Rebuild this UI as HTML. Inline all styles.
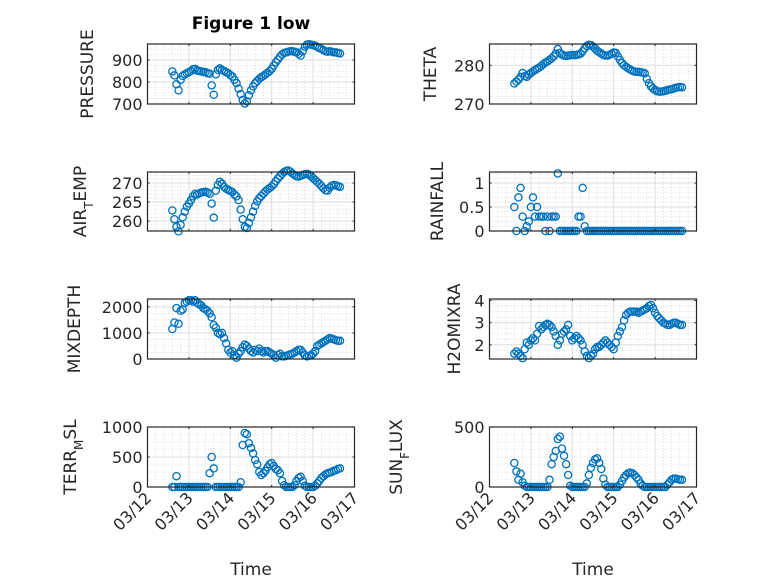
<!DOCTYPE html>
<html><head><meta charset="utf-8"><title>Figure 1 low</title>
<style>
html,body{margin:0;padding:0;background:#fff;}
svg{display:block;font-family:"DejaVu Sans","Liberation Sans",sans-serif;}
</style></head>
<body>
<svg id="fig" width="778" height="583" viewBox="0 0 778 583" xmlns="http://www.w3.org/2000/svg">
<rect x="0" y="0" width="778" height="583" fill="#fff"/>
<text x="251" y="29" text-anchor="middle" font-size="17" font-weight="bold" fill="#000">Figure 1 low</text>
</svg>
<script>
const times = [0.60,0.65,0.70,0.75,0.80,0.85,0.90,0.95,1.00,1.05,1.10,1.15,1.20,1.25,1.30,1.35,1.40,1.45,1.50,1.55,1.60,1.65,1.70,1.75,1.80,1.85,1.90,1.95,2.00,2.05,2.10,2.15,2.20,2.25,2.30,2.35,2.40,2.45,2.50,2.55,2.60,2.65,2.70,2.75,2.80,2.85,2.90,2.95,3.00,3.05,3.10,3.15,3.20,3.25,3.30,3.35,3.40,3.45,3.50,3.55,3.60,3.65,3.70,3.75,3.80,3.85,3.90,3.95,4.00,4.05,4.10,4.15,4.20,4.25,4.30,4.35,4.40,4.45,4.50,4.55,4.60,4.65];
const xTickLabels = ["03/12","03/13","03/14","03/15","03/16","03/17"];
const pressure = [848,830,790,762,810,828,835,840,845,850,858,860,852,850,848,846,845,840,838,785,742,835,855,862,855,850,845,840,832,825,810,795,770,745,718,702,712,740,762,780,795,805,815,822,828,835,842,850,860,875,890,902,915,925,932,935,938,940,940,938,935,928,920,940,960,970,972,970,968,965,960,955,950,945,940,938,940,938,935,935,932,930];
const theta = [275.3,275.8,276.3,277.0,278.0,277.2,277.0,277.6,278.0,278.4,278.8,279.1,279.4,279.8,280.3,280.7,281.0,281.4,281.8,282.3,283.0,284.2,283.2,282.8,282.5,282.4,282.5,282.6,282.7,282.6,282.7,282.8,283.0,283.6,284.4,285.0,285.3,285.2,284.8,284.3,283.8,283.4,283.0,282.7,282.5,282.5,282.7,283.0,283.3,283.2,282.3,281.4,280.6,280.0,279.6,279.2,278.9,278.6,278.4,278.3,278.3,278.2,278.1,277.9,276.5,275.4,274.6,274.0,273.6,273.3,273.2,273.2,273.3,273.4,273.6,273.7,273.8,274.0,274.2,274.3,274.4,274.3];
const airTemp = [262.8,260.5,258.5,257.3,259,261,262.5,263.8,264.6,265.5,266.5,267.2,267.0,267.3,267.5,267.6,267.7,267.5,267.2,264.6,260.9,268,269.5,270.3,269.8,269,268.5,268.2,267.9,267.6,267,266.5,265.5,263,260.5,258.5,258.2,259.5,261,262.5,264,265.2,266,266.6,267.2,267.8,268.3,268.7,269.1,269.7,270.5,271.2,271.8,272.4,272.9,273.2,273.3,273.0,272.5,272.1,271.8,271.7,271.9,272.1,272.3,272.4,272.2,271.8,271.3,270.8,270.3,269.8,269.2,268.6,268.1,268.0,268.8,269.3,269.5,269.4,269.2,269.0];
const rainfall = [0.5,0,0.7,0.9,0.3,0,0.1,0.2,0.5,0.7,0.3,0.5,0.3,0.3,0.3,0,0.3,0,0.3,0.3,0.3,1.2,0,0,0,0,0,0,0,0,0,0.3,0.3,0.9,0.1,0,0,0,0,0,0,0,0,0,0,0,0,0,0,0,0,0,0,0,0,0,0,0,0,0,0,0,0,0,0,0,0,0,0,0,0,0,0,0,0,0,0,0,0,0,0,0];
const mixDepth = [1150,1400,1950,1350,1850,1900,2150,2200,2250,2250,2200,2250,2150,2100,2050,1950,1900,1850,1750,1600,1300,1200,1000,950,1000,800,600,350,250,300,150,50,200,300,450,550,500,400,300,250,350,300,400,300,250,300,300,250,200,150,50,150,200,100,100,120,150,180,200,250,300,350,350,250,150,100,120,150,200,300,500,550,600,650,700,750,800,780,750,720,700,700];
const h2oMix = [1.6,1.7,1.6,1.5,1.4,1.8,2.1,2.0,2.2,2.3,2.2,2.5,2.85,2.7,2.8,2.9,2.95,2.9,2.8,2.6,2.4,2.0,2.2,2.5,2.6,2.7,2.9,2.4,2.2,2.3,2.4,2.3,2.2,2.0,1.7,1.5,1.4,1.5,1.6,1.8,1.9,1.9,2.0,2.1,2.2,2.1,2.0,1.9,1.8,2.1,2.4,2.6,2.8,3.1,3.35,3.45,3.5,3.5,3.5,3.5,3.45,3.5,3.55,3.6,3.65,3.75,3.8,3.65,3.45,3.3,3.2,3.1,3.0,2.95,2.9,2.9,2.95,3.0,3.0,2.95,2.9,2.9];
const terrMsl = [0,0,180,0,0,0,0,0,0,0,0,0,0,0,0,0,0,0,230,500,310,0,0,0,0,0,0,0,0,0,0,0,0,80,700,900,880,730,650,560,450,380,250,200,230,270,330,380,400,350,300,280,230,100,30,0,0,0,0,30,100,150,170,100,20,0,0,0,0,20,60,100,150,180,210,230,240,250,270,280,300,310];
const sunFlux = [200,130,60,110,40,10,0,0,0,0,0,0,0,0,0,0,0,60,190,250,300,400,420,320,260,190,100,10,0,0,0,0,0,0,0,30,100,160,200,230,240,200,150,70,20,0,0,0,0,0,0,20,50,80,100,115,120,115,100,80,60,30,10,0,0,0,0,0,0,0,0,0,0,0,20,40,60,70,70,65,60,60];

const pressureTicks=[700,800,900], thetaTicks=[270,280], airTicks=[260,265,270], rainTicks=[0,0.5,1], rainTickLabels=["0","0.5","1"], mixTicks=[0,1000,2000], h2oTicks=[2,3,4], terrTicks=[0,500,1000], sunTicks=[0,500];

const NS="http://www.w3.org/2000/svg";
const svg=document.getElementById('fig');
function mk(tag,attrs,parent){const e=document.createElementNS(NS,tag);for(const k in attrs)e.setAttribute(k,attrs[k]);(parent||svg).appendChild(e);return e;}

function panel(o){
  const g=mk('g',{});
  
  
  const L=o.x, R=o.x+207, T=o.y, B=o.y+o.h;
  const xs=t=>L+(t/5)*(R-L);
  const ys=v=>B-(v-o.ymin)/(o.ymax-o.ymin)*(B-T);
  for(let d=0;d<5;d++)for(let k=1;k<5;k++){const x=xs(d+k/5);mk('line',{x1:x,x2:x,y1:T,y2:B,stroke:'#c8c8c8','stroke-width':0.6,'stroke-dasharray':'1 2'},g);}
  const mstep=o.minor;
  for(let v=Math.ceil(o.ymin/mstep)*mstep;v<o.ymax;v+=mstep){const y=ys(v);mk('line',{x1:L,x2:R,y1:y,y2:y,stroke:'#c8c8c8','stroke-width':0.6,'stroke-dasharray':'1 2'},g);}
  for(let d=1;d<5;d++){const x=xs(d);mk('line',{x1:x,x2:x,y1:T,y2:B,stroke:'#dedede','stroke-width':1},g);}
  o.ticks.forEach(v=>{const y=ys(v);mk('line',{x1:L,x2:R,y1:y,y2:y,stroke:'#dedede','stroke-width':1},g);});
  const dg=mk('g',{},g);
  
  
  times.forEach((t,i)=>{
    const c=mk('circle',{cx:xs(t).toFixed(2),cy:ys(o.data[i]).toFixed(2),r:3.6,fill:'none',stroke:'#0072BD','stroke-width':1.3},dg);
    
    
  });
  mk('rect',{x:L,y:T,width:R-L,height:B-T,fill:'none',stroke:'#262626','stroke-width':1.2},g);
  for(let d=0;d<=5;d++){const x=xs(d);mk('line',{x1:x,x2:x,y1:B,y2:B-2,stroke:'#262626'},g);mk('line',{x1:x,x2:x,y1:T,y2:T+2,stroke:'#262626'},g);}
  o.ticks.forEach((v,i)=>{const y=ys(v);mk('line',{x1:L,x2:L+2,y1:y,y2:y,stroke:'#262626'},g);mk('line',{x1:R,x2:R-2,y1:y,y2:y,stroke:'#262626'},g);
    const tx=mk('text',{x:L-5,y:y+6,'text-anchor':'end','font-size':16,fill:'#262626'},g);tx.textContent=o.tickLabels?o.tickLabels[i]:String(v);
    
    
  });
  const yl=mk('text',{transform:`translate(${o.lx},${(T+B)/2}) rotate(-90)`,'text-anchor':'middle','font-size':17,fill:'#262626'},g);
  
  
  if(o.sub){const a=mk('tspan',{},yl);a.textContent=o.sub[0];const b=mk('tspan',{'baseline-shift':'sub','font-size':12},yl);b.textContent=o.sub[1];const c=mk('tspan',{'baseline-shift':'0'},yl);c.textContent=o.sub[2];}
  else yl.textContent=o.label;
  if(o.bottom){
    for(let d=0;d<=5;d++){const x=xs(d);
      const tl=mk('text',{transform:`translate(${x+5},${B+12}) rotate(-45)`,'text-anchor':'end','font-size':16,fill:'#262626'},g);tl.textContent=xTickLabels[d];
      
      
    }
    const xl=mk('text',{x:(L+R)/2,y:575,'text-anchor':'middle','font-size':17,fill:'#262626'},g);xl.textContent='Time';
    
    
  }
}
const LX=147.5, RX=489.5;
panel({name:'pressure',x:LX,y:44,h:60,ymin:700,ymax:973,ticks:pressureTicks,minor:25,data:pressure,label:'PRESSURE',lx:93});
panel({name:'theta',x:RX,y:44,h:60,ymin:270,ymax:285.5,ticks:thetaTicks,minor:2,data:theta,label:'THETA',lx:436});
panel({name:'air-temp',x:LX,y:172,h:59,ymin:257.4,ymax:272.9,ticks:airTicks,minor:1,data:airTemp,sub:['AIR','T','EMP'],lx:86});
panel({name:'rainfall',x:RX,y:172,h:59,ymin:0,ymax:1.23,ticks:rainTicks,tickLabels:rainTickLabels,minor:0.1,data:rainfall,label:'RAINFALL',lx:443});
panel({name:'mixdepth',x:LX,y:299,h:60,ymin:0,ymax:2300,ticks:mixTicks,minor:250,data:mixDepth,label:'MIXDEPTH',lx:80});
panel({name:'h2omixra',x:RX,y:299,h:60,ymin:1.36,ymax:4.07,ticks:h2oTicks,minor:0.25,data:h2oMix,label:'H2OMIXRA',lx:460});
panel({name:'terr-msl',x:LX,y:427,h:60,ymin:0,ymax:1000,ticks:terrTicks,minor:125,data:terrMsl,sub:['TERR','M','SL'],lx:76,bottom:true});
panel({name:'sun-flux',x:RX,y:427,h:60,ymin:0,ymax:500,ticks:sunTicks,minor:62.5,data:sunFlux,sub:['SUN','F','LUX'],lx:402,bottom:true});
</script>
</body></html>
